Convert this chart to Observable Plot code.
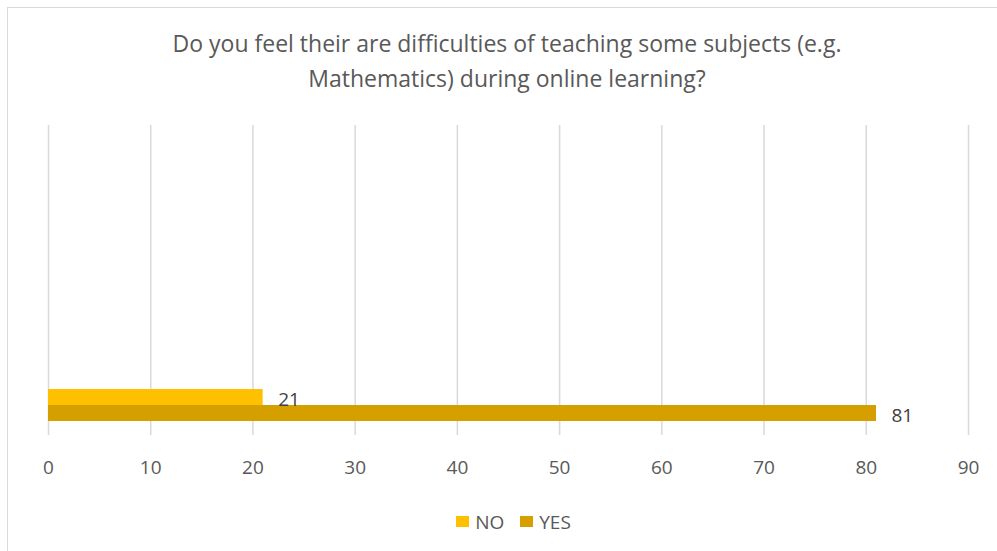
<!DOCTYPE html>
<html>
<head>
<meta charset="utf-8">
<script src="https://cdn.jsdelivr.net/npm/d3@7"></script>
<script src="https://cdn.jsdelivr.net/npm/@observablehq/plot@0.6"></script>
<style>
  html, body { margin: 0; padding: 0; background: #fff; }
  #wrap { position: relative; width: 997px; height: 551px; overflow: hidden; font-family: "Open Sans", sans-serif; }
  #frame { position: absolute; left: 7px; top: 7px; width: 1200px; height: 800px; border: 1px solid #d9d9d9; box-sizing: border-box; }
  #title { position: absolute; left: 7px; width: 1000px; top: 26px; text-align: center; font-size: 23px; line-height: 35px; color: #595959; }
  #chart { position: absolute; left: 0; top: 115px; }
  #legend { position: absolute; left: 0; width: 1027px; top: 507px; text-align: center; font-size: 19px; color: #595959; }
  .item { display: inline-flex; align-items: center; margin: 0 8px; }
  .sw { display: inline-block; width: 13px; height: 11px; margin-right: 6px; }
</style>
</head>
<body>
<div id="wrap">
  <div id="frame"></div>
  <div id="title">Do you feel their are difficulties of teaching some subjects (e.g.<br>Mathematics) during online learning?</div>
  <div id="chart"></div>
  <div id="legend"></div>
</div>
<script>
const answers = ["NO", "YES"];
const counts = [21, 81];
const colors = ["#ffc000", "#d59f00"];
const xTicks = [0, 10, 20, 30, 40, 50, 60, 70, 80, 90];

const data = answers.map((a, i) => ({answer: a, count: counts[i]}));

const chart = Plot.plot({
  width: 997,
  height: 370,
  marginLeft: 48,
  marginRight: 29,
  marginTop: 10,
  marginBottom: 50,
  style: {fontFamily: "'Open Sans', sans-serif", fontSize: "19px", color: "#595959", background: "transparent"},
  x: {domain: [0, 90], ticks: xTicks, label: null},
  y: {domain: answers, range: [273, 306], padding: 0, axis: null},
  color: {domain: answers, range: colors},
  marks: [
    Plot.ruleX(xTicks, {stroke: "#d9d9d9", strokeWidth: 1.5}),
    Plot.axisX({ticks: xTicks, tickSize: 0, tickPadding: 25, fontSize: 19, label: null, color: "#595959"}),
    Plot.barX(data, {x: "count", y: "answer", fill: "answer"}),
    Plot.text(data, {x: "count", y: "answer", text: d => String(d.count), textAnchor: "start", dx: 15, dy: 2, fill: "#404040", fontSize: 19})
  ]
});
document.getElementById("chart").appendChild(chart);

const legend = document.getElementById("legend");
answers.forEach((a, i) => {
  const item = document.createElement("span");
  item.className = "item";
  const sw = document.createElement("span");
  sw.className = "sw";
  sw.style.background = colors[i];
  item.appendChild(sw);
  item.appendChild(document.createTextNode(a));
  legend.appendChild(item);
});
</script>
</body>
</html>
